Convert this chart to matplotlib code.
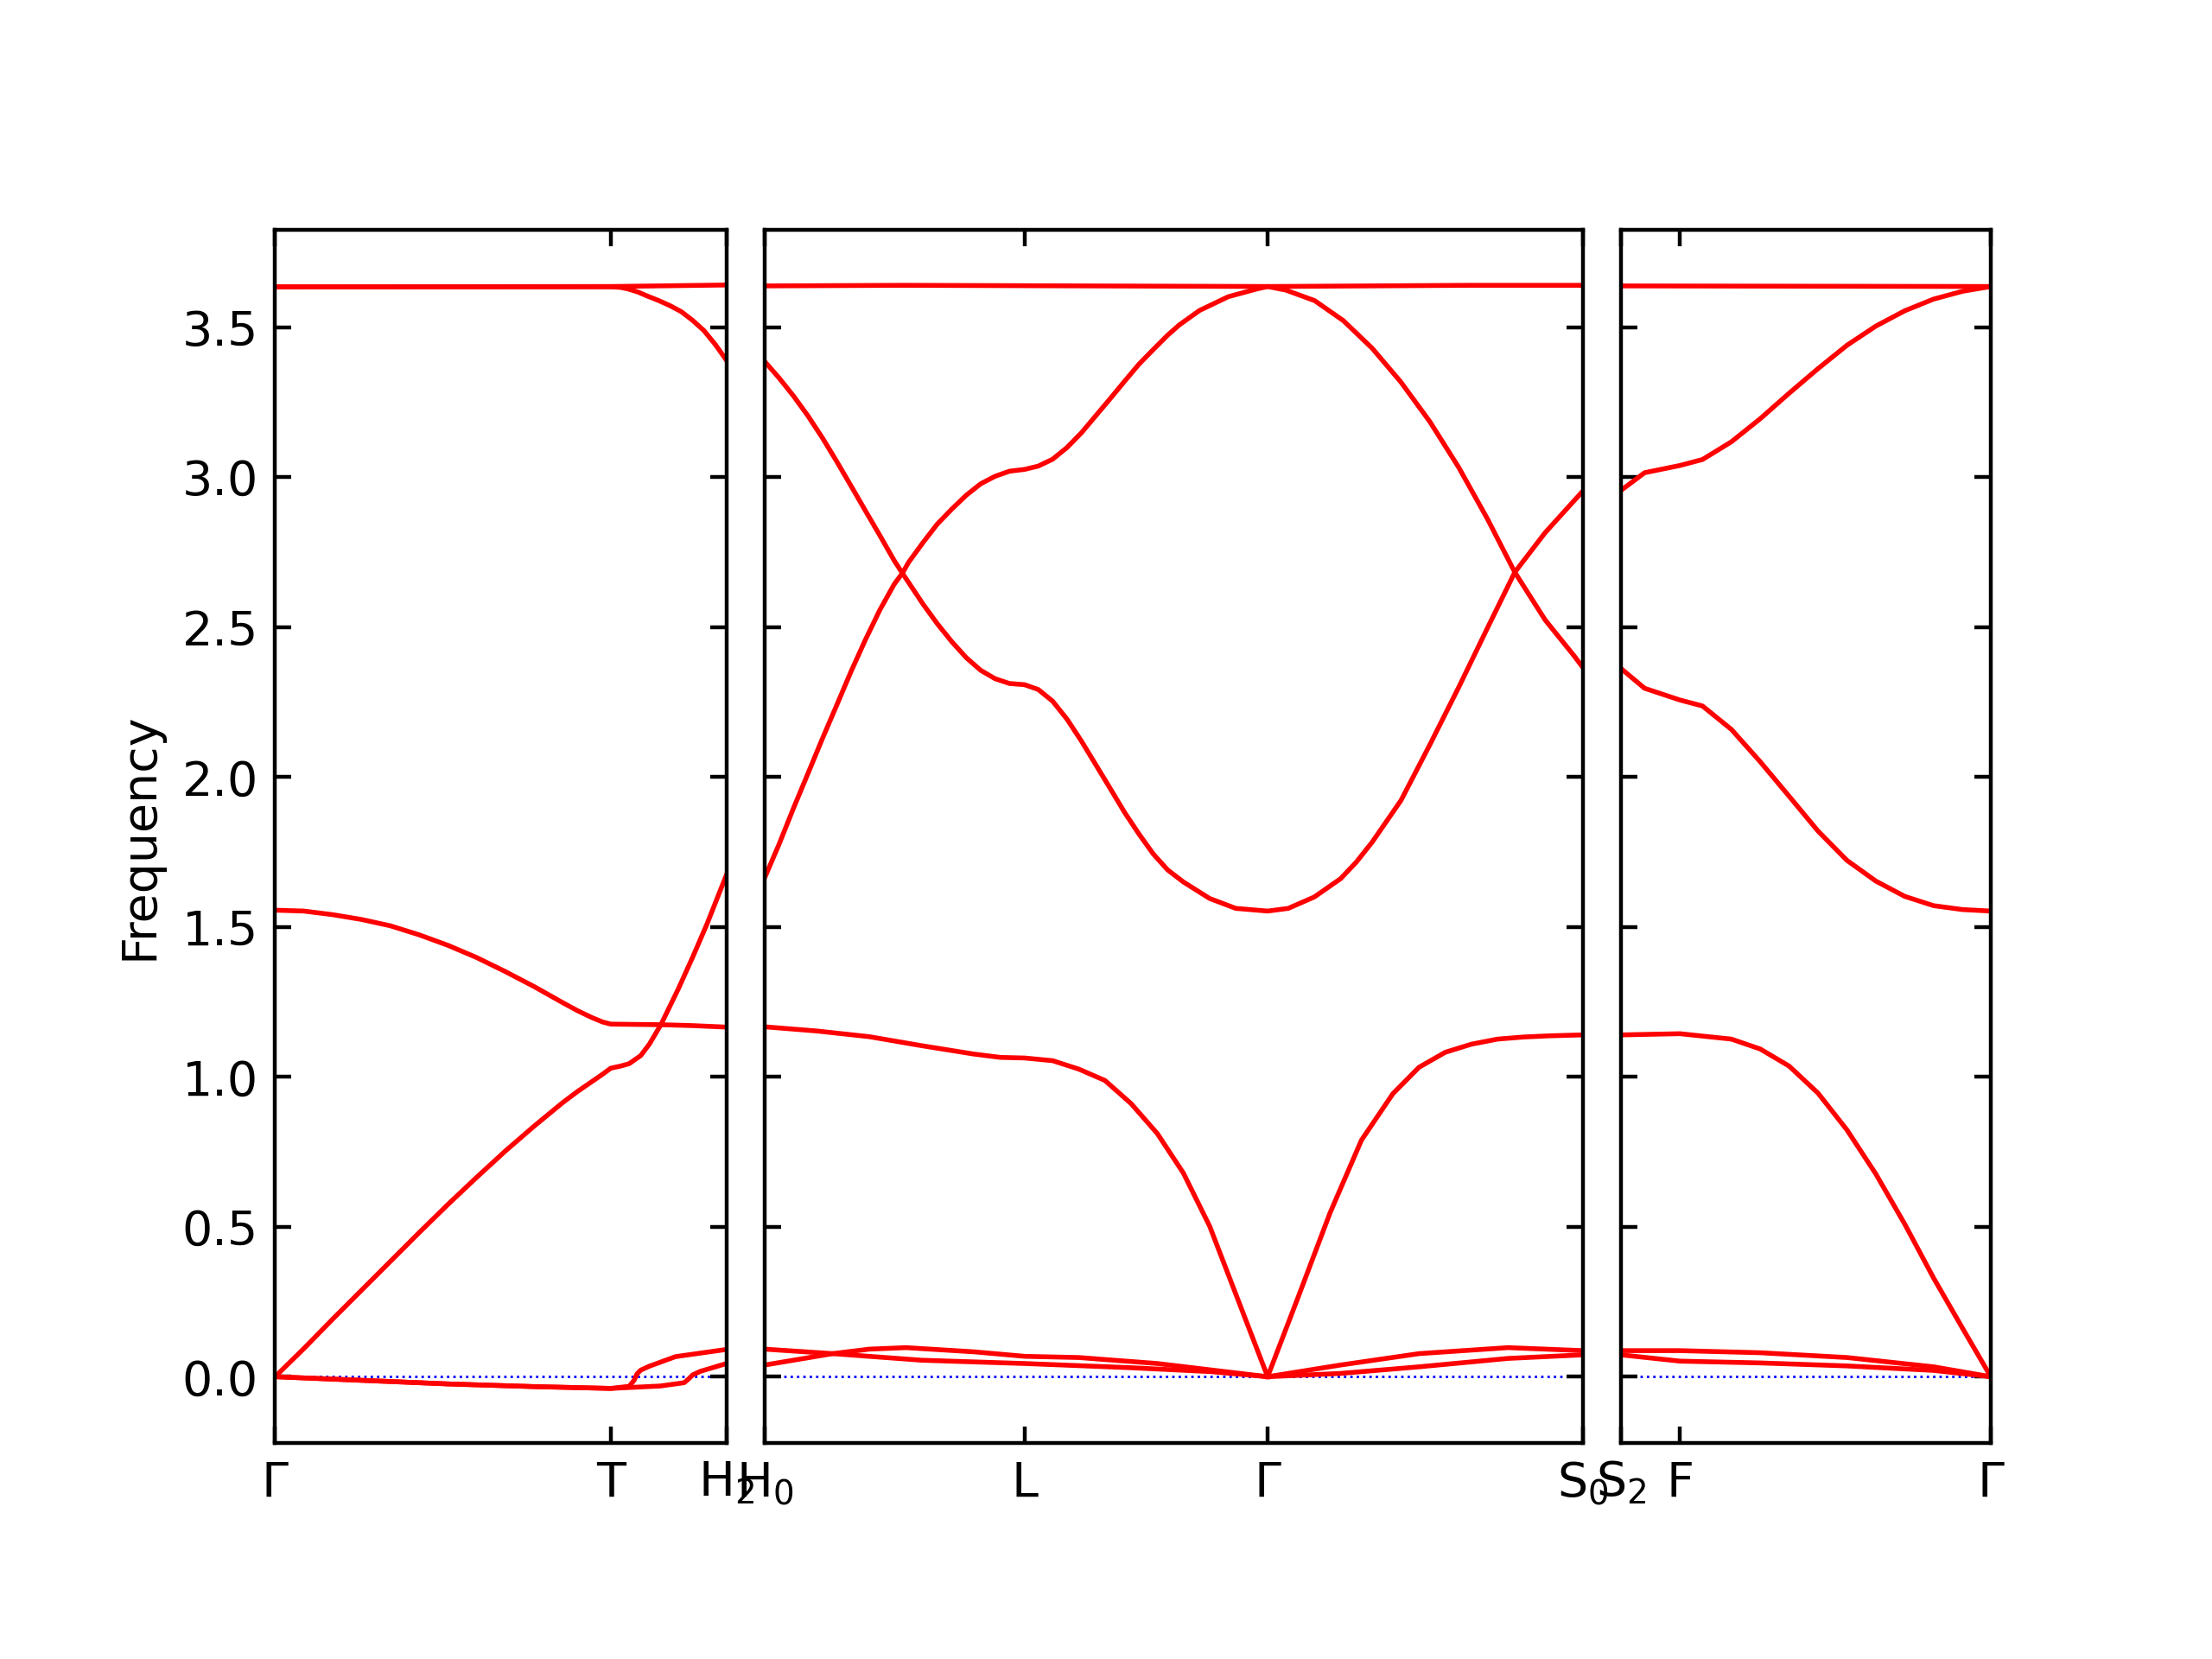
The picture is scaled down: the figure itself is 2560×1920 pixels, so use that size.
import matplotlib
matplotlib.use("Agg")
import matplotlib.pyplot as plt

# ---------------- data (path distance, frequency) ----------------
# Panel 1: Gamma - T - H2
p1_ticks = [0.0, 2.38, 3.20]
p1_labels = ["Γ", "T", "H$_2$"]
p1_top1_x = [0.0, 2.38, 3.20]
p1_top1_y = [3.635, 3.636, 3.641]
p1_top2_x = [0.0, 2.38, 2.45, 2.50, 2.57, 2.64, 2.72, 2.80, 2.88, 2.96, 3.04, 3.12, 3.20]
p1_top2_y = [3.635, 3.635, 3.633, 3.628, 3.618, 3.604, 3.589, 3.572, 3.552, 3.523,
             3.489, 3.443, 3.390]
p1_opt_x = [0.0, 0.204, 0.408, 0.612, 0.816, 1.020, 1.224, 1.429, 1.633, 1.837,
            2.041, 2.143, 2.245, 2.322, 2.38, 2.551, 2.735, 2.959, 3.20]
p1_opt_y = [1.556, 1.553, 1.541, 1.525, 1.504, 1.474, 1.439, 1.398, 1.351, 1.301,
            1.247, 1.221, 1.198, 1.183, 1.176, 1.175, 1.174, 1.171, 1.166]
p1_ac_x = [0.0, 0.204, 0.408, 0.612, 0.816, 1.020, 1.224, 1.429, 1.633, 1.837,
           2.041, 2.143, 2.245, 2.322, 2.38, 2.449, 2.51, 2.592, 2.653, 2.735,
           2.857, 2.959, 3.061, 3.20]
p1_ac_y = [0.0, 0.094, 0.192, 0.288, 0.384, 0.480, 0.574, 0.665, 0.753, 0.836,
           0.915, 0.951, 0.984, 1.009, 1.029, 1.036, 1.044, 1.071, 1.109, 1.174,
           1.292, 1.398, 1.509, 1.674]
p1_lowA_x = [0.0, 0.612, 1.224, 1.837, 2.38, 2.51, 2.545, 2.565, 2.592, 2.653, 2.839, 3.20]
p1_lowA_y = [0.0, -0.012, -0.024, -0.033, -0.039, -0.032, -0.012, 0.009, 0.022, 0.035, 0.067, 0.091]
p1_lowB_x = [0.0, 0.612, 1.224, 1.837, 2.38, 2.73, 2.90, 2.93, 2.96, 3.015, 3.20]
p1_lowB_y = [0.0, -0.012, -0.024, -0.033, -0.039, -0.031, -0.020, -0.008, 0.006, 0.018, 0.044]

# Panel 2: H0 - L - Gamma - S0
p2_ticks = [0.0, 1.842, 3.565, 5.80]
p2_labels = ["H$_0$", "L", "Γ", "S$_0$"]
p2_top_x = [0.0, 1.0, 3.565, 5.0, 5.80]
p2_top_y = [3.638, 3.640, 3.636, 3.640, 3.640]
p2_D_x = [0.0, 0.102, 0.204, 0.306, 0.408, 0.510, 0.612, 0.714, 0.816, 0.918,
          0.976, 1.020, 1.122, 1.224, 1.327, 1.429, 1.531, 1.633, 1.735, 1.842,
          1.939, 2.041, 2.143, 2.245, 2.347, 2.449, 2.551, 2.653, 2.755, 2.857,
          2.968, 3.154, 3.339, 3.565, 3.711, 3.896, 4.082, 4.193, 4.306, 4.510,
          4.715, 4.919, 5.123, 5.317, 5.532, 5.736, 5.80]
p2_D_y = [3.386, 3.331, 3.271, 3.205, 3.132, 3.053, 2.971, 2.888, 2.806, 2.722,
          2.680, 2.649, 2.577, 2.511, 2.451, 2.398, 2.356, 2.328, 2.312, 2.308,
          2.292, 2.253, 2.193, 2.120, 2.041, 1.962, 1.882, 1.810, 1.743, 1.690,
          1.650, 1.595, 1.562, 1.553, 1.562, 1.600, 1.661, 1.716, 1.783, 1.922,
          2.108, 2.299, 2.497, 2.683, 2.815, 2.921, 2.954]
p2_R_x = [0.0, 0.102, 0.204, 0.306, 0.408, 0.510, 0.612, 0.714, 0.816, 0.918,
          0.976, 1.020, 1.122, 1.224, 1.327, 1.429, 1.531, 1.633, 1.735, 1.842,
          1.939, 2.041, 2.143, 2.245, 2.347, 2.449, 2.551, 2.653, 2.755, 2.857,
          2.939, 3.082, 3.286, 3.490, 3.565, 3.694, 3.898, 4.102, 4.306, 4.510,
          4.715, 4.919, 5.123, 5.317, 5.532, 5.736, 5.80]
p2_R_y = [1.664, 1.776, 1.896, 2.011, 2.127, 2.239, 2.352, 2.458, 2.557, 2.643,
          2.680, 2.716, 2.782, 2.844, 2.894, 2.940, 2.978, 3.003, 3.020, 3.026,
          3.037, 3.060, 3.099, 3.148, 3.205, 3.262, 3.320, 3.377, 3.426, 3.474,
          3.508, 3.556, 3.602, 3.628, 3.636, 3.624, 3.589, 3.522, 3.430, 3.317,
          3.185, 3.033, 2.861, 2.683, 2.524, 2.405, 2.365]
p2_A_x = [0.0, 0.371, 0.742, 1.113, 1.484, 1.670, 1.842, 2.041, 2.226, 2.412,
          2.597, 2.783, 2.968, 3.154, 3.339, 3.565, 3.785, 4.007, 4.230, 4.453,
          4.638, 4.824, 5.009, 5.195, 5.380, 5.566, 5.80]
p2_A_y = [1.167, 1.153, 1.134, 1.104, 1.076, 1.065, 1.063, 1.054, 1.026, 0.988,
          0.911, 0.811, 0.679, 0.502, 0.276, 0.0, 0.270, 0.546, 0.789, 0.944,
          1.032, 1.082, 1.109, 1.126, 1.133, 1.137, 1.140]
p2_la_x = [0.0, 0.482, 1.113, 1.844, 2.597, 3.162, 3.565]
p2_la_y = [0.092, 0.077, 0.055, 0.044, 0.030, 0.017, 0.0]
p2_lb_x = [0.0, 0.482, 0.742, 1.002, 1.484, 1.844, 2.226, 2.783, 3.565]
p2_lb_y = [0.039, 0.077, 0.092, 0.097, 0.083, 0.068, 0.064, 0.044, 0.0]
p2_lc_x = [3.565, 4.082, 4.638, 5.269, 5.80]
p2_lc_y = [0.0, 0.039, 0.077, 0.097, 0.087]
p2_ld_x = [3.565, 4.082, 4.638, 5.269, 5.80]
p2_ld_y = [0.0, 0.011, 0.033, 0.061, 0.073]

# Panel 3: S2 - F - Gamma
p3_ticks = [0.0, 0.416, 2.613]
p3_labels = ["S$_2$", "F", "Γ"]
p3_top_x = [0.0, 2.613]
p3_top_y = [3.638, 3.636]
p3_x = [0.0, 0.167, 0.416, 0.576, 0.78, 0.984, 1.188, 1.392, 1.597, 1.801,
        2.005, 2.209, 2.413, 2.613]
p3_rise_y = [2.956, 3.015, 3.039, 3.059, 3.118, 3.195, 3.280, 3.362, 3.440, 3.504,
             3.555, 3.594, 3.620, 3.636]
p3_mid_y = [2.362, 2.296, 2.257, 2.237, 2.159, 2.051, 1.936, 1.820, 1.722, 1.653,
            1.602, 1.571, 1.558, 1.553]
p3_ac_x = [0.0, 0.416, 0.78, 0.984, 1.188, 1.392, 1.597, 1.801, 2.005, 2.209, 2.413, 2.613]
p3_ac_y = [1.140, 1.144, 1.126, 1.093, 1.036, 0.946, 0.823, 0.676, 0.509, 0.329, 0.162, 0.0]
p3_low_x = [0.0, 0.416, 0.984, 1.597, 2.209, 2.613]
p3_le_y = [0.087, 0.087, 0.080, 0.064, 0.033, 0.0]
p3_lz_y = [0.073, 0.052, 0.046, 0.036, 0.021, 0.0]

ylim = (-0.221, 3.825)

# ---------------- figure ----------------
fig = plt.figure(figsize=(6.4, 4.8), dpi=400)
bottom, height = 0.13021, 0.73125
ax1 = fig.add_axes([0.12437, bottom, 0.20406, height])
ax2 = fig.add_axes([0.34570, bottom, 0.36992, height])
ax3 = fig.add_axes([0.73280, bottom, 0.16720, height])

panels = [
    (ax1, p1_ticks, p1_labels,
     [(p1_top1_x, p1_top1_y), (p1_top2_x, p1_top2_y), (p1_opt_x, p1_opt_y),
      (p1_ac_x, p1_ac_y), (p1_lowA_x, p1_lowA_y), (p1_lowB_x, p1_lowB_y)]),
    (ax2, p2_ticks, p2_labels,
     [(p2_top_x, p2_top_y), (p2_D_x, p2_D_y), (p2_R_x, p2_R_y), (p2_A_x, p2_A_y),
      (p2_la_x, p2_la_y), (p2_lb_x, p2_lb_y), (p2_lc_x, p2_lc_y), (p2_ld_x, p2_ld_y)]),
    (ax3, p3_ticks, p3_labels,
     [(p3_top_x, p3_top_y), (p3_x, p3_rise_y), (p3_x, p3_mid_y), (p3_ac_x, p3_ac_y),
      (p3_low_x, p3_le_y), (p3_low_x, p3_lz_y)]),
]

for i, (ax, ticks, labels, bands) in enumerate(panels):
    ax.axhline(0, color="b", linestyle=":", linewidth=0.5, zorder=1)
    for bx, by in bands:
        ax.plot(bx, by, color="r", linewidth=1.0, zorder=2,
                solid_joinstyle="round")
    ax.set_xlim(ticks[0], ticks[-1])
    ax.set_ylim(*ylim)
    ax.set_xticks(ticks)
    ax.set_xticklabels(labels)
    ax.set_yticks([0.0, 0.5, 1.0, 1.5, 2.0, 2.5, 3.0, 3.5])
    ax.tick_params(direction="in", top=True, right=True, labelsize=10)
    if i > 0:
        ax.tick_params(labelleft=False)

ax1.set_ylabel("Frequency", fontsize=10)

fig.savefig("out.png", dpi=400)
